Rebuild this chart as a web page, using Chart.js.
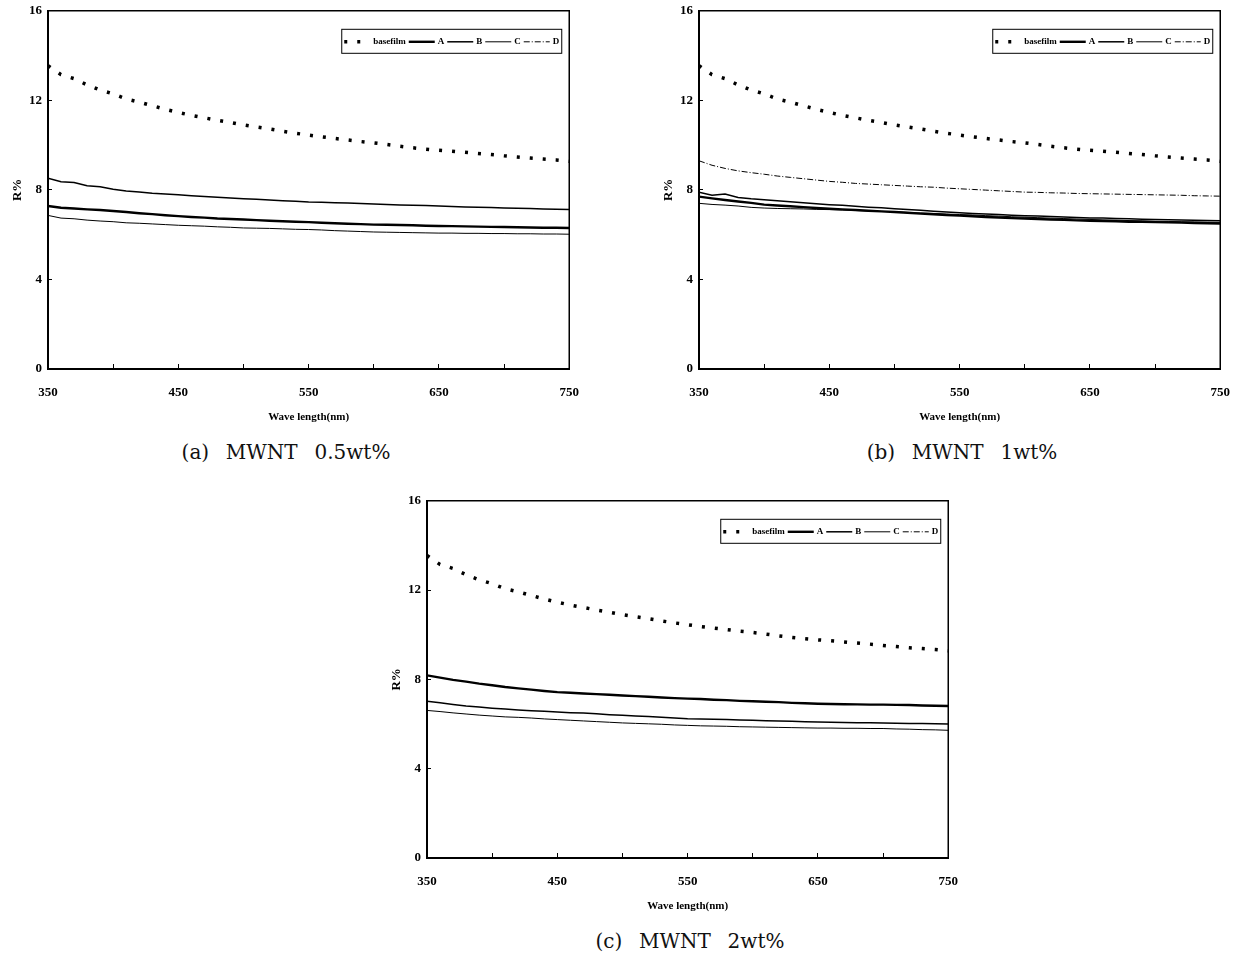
<!DOCTYPE html>
<html>
<head>
<meta charset="utf-8">
<script src="https://cdn.jsdelivr.net/npm/chart.js@4.4.1/dist/chart.umd.min.js"></script>
<style>
  body { margin: 0; background: #fff; width: 1238px; height: 958px; position: relative; overflow: hidden; }
  .panel { position: absolute; }
  .cap { position: absolute; font-family: "DejaVu Serif", serif; font-size: 20px; color: #111; white-space: pre; word-spacing: 2px; transform: translateX(-50%); }
</style>
</head>
<body>
<div class="panel" style="left:0px;top:-7px;width:600px;height:437px"><canvas id="ca"></canvas></div>
<div class="panel" style="left:651px;top:-7px;width:600px;height:437px"><canvas id="cb"></canvas></div>
<div class="panel" style="left:379px;top:483px;width:600px;height:436px"><canvas id="cc"></canvas></div>
<div class="cap" style="left:286px;top:440px">(a)  MWNT  0.5wt%</div>
<div class="cap" style="left:962px;top:440px">(b)  MWNT  1wt%</div>
<div class="cap" style="left:690px;top:929px">(c)  MWNT  2wt%</div>
<script>
// wavelength 350..750 nm, 10 nm steps
var wavelength = [350,360,370,380,390,400,410,420,430,440,450,460,470,480,490,500,510,520,530,540,
  550,560,570,580,590,600,610,620,630,640,650,660,670,680,690,700,710,720,730,740,750];
var xTicks = [350, 450, 550, 650, 750];
var yTicks = [0, 4, 8, 12, 16];
var seriesNames = ['basefilm', 'A', 'B', 'C', 'D'];

// base film is the same curve in all three panels
var basefilm = [13.55,13.15,12.97,12.69,12.46,12.29,12.06,11.92,11.76,11.60,11.46,11.33,11.22,11.11,11.01,10.90,10.81,10.72,10.62,10.53,
  10.45,10.37,10.30,10.23,10.16,10.10,10.03,9.95,9.88,9.82,9.77,9.73,9.68,9.63,9.58,9.52,9.47,9.42,9.38,9.34,9.28];

// (a) MWNT 0.5wt%
var aA = [7.28,7.20,7.17,7.13,7.10,7.06,7.01,6.96,6.92,6.87,6.83,6.79,6.76,6.72,6.70,6.68,6.65,6.62,6.60,6.58,
  6.56,6.53,6.51,6.49,6.47,6.45,6.44,6.43,6.42,6.40,6.39,6.38,6.37,6.36,6.35,6.34,6.33,6.32,6.31,6.31,6.30];
var aB = [8.52,8.36,8.33,8.19,8.14,8.03,7.95,7.91,7.85,7.82,7.78,7.74,7.70,7.67,7.64,7.61,7.58,7.55,7.52,7.49,
  7.46,7.45,7.43,7.41,7.39,7.37,7.35,7.33,7.31,7.30,7.28,7.26,7.24,7.22,7.21,7.19,7.18,7.17,7.15,7.14,7.13];
var aC = [6.86,6.74,6.71,6.65,6.61,6.58,6.53,6.51,6.48,6.45,6.42,6.40,6.38,6.35,6.33,6.30,6.29,6.28,6.26,6.24,
  6.23,6.21,6.18,6.16,6.14,6.12,6.11,6.10,6.09,6.08,6.07,6.07,6.06,6.06,6.05,6.05,6.04,6.04,6.03,6.03,6.02];
var aD = [];

// (b) MWNT 1wt%
var bA = [7.70,7.62,7.55,7.48,7.42,7.34,7.30,7.27,7.23,7.19,7.16,7.13,7.10,7.07,7.04,7.01,6.98,6.94,6.91,6.88,
  6.85,6.82,6.79,6.77,6.74,6.72,6.70,6.68,6.66,6.64,6.62,6.61,6.60,6.58,6.57,6.56,6.55,6.54,6.52,6.51,6.50];
var bB = [7.90,7.76,7.82,7.66,7.60,7.56,7.52,7.47,7.43,7.38,7.34,7.31,7.27,7.23,7.20,7.16,7.12,7.09,7.05,7.01,
  6.98,6.95,6.92,6.90,6.87,6.85,6.83,6.81,6.79,6.77,6.75,6.74,6.72,6.71,6.69,6.68,6.67,6.66,6.64,6.63,6.62];
var bC = [7.40,7.35,7.32,7.28,7.22,7.19,7.17,7.16,7.15,7.13,7.12,7.10,7.08,7.06,7.04,7.02,6.99,6.97,6.95,6.92,
  6.90,6.88,6.85,6.83,6.80,6.78,6.76,6.74,6.72,6.70,6.68,6.66,6.65,6.63,6.62,6.60,6.59,6.58,6.57,6.56,6.55];
var bD = [9.30,9.10,8.96,8.85,8.77,8.70,8.62,8.56,8.50,8.44,8.38,8.34,8.29,8.26,8.23,8.20,8.17,8.14,8.12,8.08,
  8.05,8.02,7.99,7.96,7.93,7.90,7.89,7.87,7.86,7.84,7.83,7.82,7.81,7.80,7.79,7.78,7.77,7.76,7.74,7.73,7.72];

// (c) MWNT 2wt%
var cA = [8.18,8.08,7.98,7.90,7.81,7.74,7.66,7.60,7.54,7.48,7.43,7.40,7.37,7.34,7.31,7.28,7.25,7.22,7.19,7.16,
  7.14,7.12,7.09,7.07,7.04,7.02,7.00,6.98,6.95,6.93,6.91,6.90,6.89,6.88,6.87,6.87,6.86,6.85,6.83,6.82,6.81];
var cB = [7.02,6.95,6.88,6.81,6.76,6.71,6.67,6.63,6.60,6.57,6.54,6.51,6.49,6.46,6.42,6.39,6.36,6.34,6.31,6.27,
  6.24,6.23,6.21,6.20,6.18,6.17,6.15,6.14,6.12,6.10,6.09,6.08,6.07,6.06,6.06,6.05,6.04,6.03,6.02,6.01,6.00];
var cC = [6.61,6.56,6.50,6.45,6.40,6.36,6.32,6.30,6.27,6.23,6.20,6.17,6.14,6.11,6.08,6.05,6.03,6.01,5.99,5.96,
  5.94,5.92,5.91,5.90,5.88,5.87,5.86,5.85,5.84,5.83,5.82,5.82,5.81,5.81,5.80,5.80,5.78,5.77,5.75,5.74,5.72];
var cD = [];

var lineStyles = [
  { borderWidth: 3.5, borderDash: [3, 10] },
  { borderWidth: 2.4, borderDash: [] },
  { borderWidth: 1.5, borderDash: [] },
  { borderWidth: 1, borderDash: [] },
  { borderWidth: 1, borderDash: [6, 2, 1, 2] }
];

function pts(ys) {
  return ys.map(function (y, i) { return { x: wavelength[i], y: y }; });
}

// frame on top/right + legend box inside the plot
var frameAndLegend = {
  id: 'frameAndLegend',
  afterDraw: function (chart) {
    var ctx = chart.ctx, a = chart.chartArea;
    ctx.save();
    ctx.strokeStyle = '#000';
    ctx.lineWidth = 1.5;
    ctx.beginPath();
    ctx.moveTo(a.left, a.top); ctx.lineTo(a.right, a.top); ctx.lineTo(a.right, a.bottom);
    ctx.stroke();

    var w = 220, h = 24, x0 = a.right - 8 - w, y0 = a.top + 18;
    ctx.fillStyle = '#fff';
    ctx.fillRect(x0, y0, w, h);
    ctx.lineWidth = 1;
    ctx.strokeRect(x0 + 0.5, y0 + 0.5, w, h);
    ctx.font = 'bold 9px "Liberation Serif"';
    ctx.textBaseline = 'middle';
    ctx.fillStyle = '#000';
    var x = x0 + 3, y = y0 + h / 2 + 1;
    chart.data.datasets.forEach(function (ds) {
      ctx.beginPath();
      ctx.setLineDash(ds.borderDash);
      ctx.lineWidth = ds.borderWidth;
      ctx.moveTo(x, y); ctx.lineTo(x + 26, y);
      ctx.stroke();
      x += 29;
      ctx.setLineDash([]);
      ctx.fillText(ds.label, x, y);
      x += ctx.measureText(ds.label).width + 3;
    });
    ctx.restore();
  }
};

function makeChart(id, series) {
  var datasets = series.map(function (ys, i) {
    return {
      label: seriesNames[i],
      data: pts(ys),
      borderColor: '#000',
      borderWidth: lineStyles[i].borderWidth,
      borderDash: lineStyles[i].borderDash,
      pointRadius: 0,
      tension: 0,
      fill: false
    };
  });
  return new Chart(document.getElementById(id), {
    type: 'line',
    data: { datasets: datasets },
    options: {
      responsive: true,
      maintainAspectRatio: false,
      animation: false,
      layout: { padding: { left: 0, top: 3, right: 11, bottom: 5 } },
      plugins: { legend: { display: false }, tooltip: { enabled: false } },
      scales: {
        x: {
          type: 'linear', min: 350, max: 750,
          border: { color: '#000', width: 2 },
          grid: { drawOnChartArea: false, drawTicks: true, tickLength: -5, color: '#000' },
          ticks: {
            stepSize: 50, autoSkip: false, maxRotation: 0, padding: 21, color: '#000',
            font: { family: 'Liberation Serif', size: 13, weight: 'bold' },
            callback: function (v) { return xTicks.indexOf(v) >= 0 ? String(v) : ''; }
          },
          title: {
            display: true, text: 'Wave length(nm)', color: '#000',
            font: { family: 'Liberation Serif', size: 11, weight: 'bold' },
            padding: { top: 0, bottom: 1 }
          },
          afterFit: function (s) { s.height = 56; }
        },
        y: {
          min: 0, max: 16,
          border: { color: '#000', width: 2 },
          grid: { drawOnChartArea: false, drawTicks: true, tickLength: -4, color: '#000' },
          ticks: {
            stepSize: 4, padding: 10, color: '#000',
            font: { family: 'Liberation Serif', size: 13, weight: 'bold' },
            callback: function (v) { return yTicks.indexOf(v) >= 0 ? String(v) : ''; }
          },
          title: {
            display: true, text: 'R%', color: '#000',
            font: { family: 'Liberation Serif', size: 13, weight: 'bold' },
            padding: { top: 10, bottom: 0 }
          },
          afterFit: function (s) { s.width = 48; }
        }
      }
    },
    plugins: [frameAndLegend]
  });
}

makeChart('ca', [basefilm, aA, aB, aC, aD]);
makeChart('cb', [basefilm, bA, bB, bC, bD]);
makeChart('cc', [basefilm, cA, cB, cC, cD]);
</script>
</body>
</html>
